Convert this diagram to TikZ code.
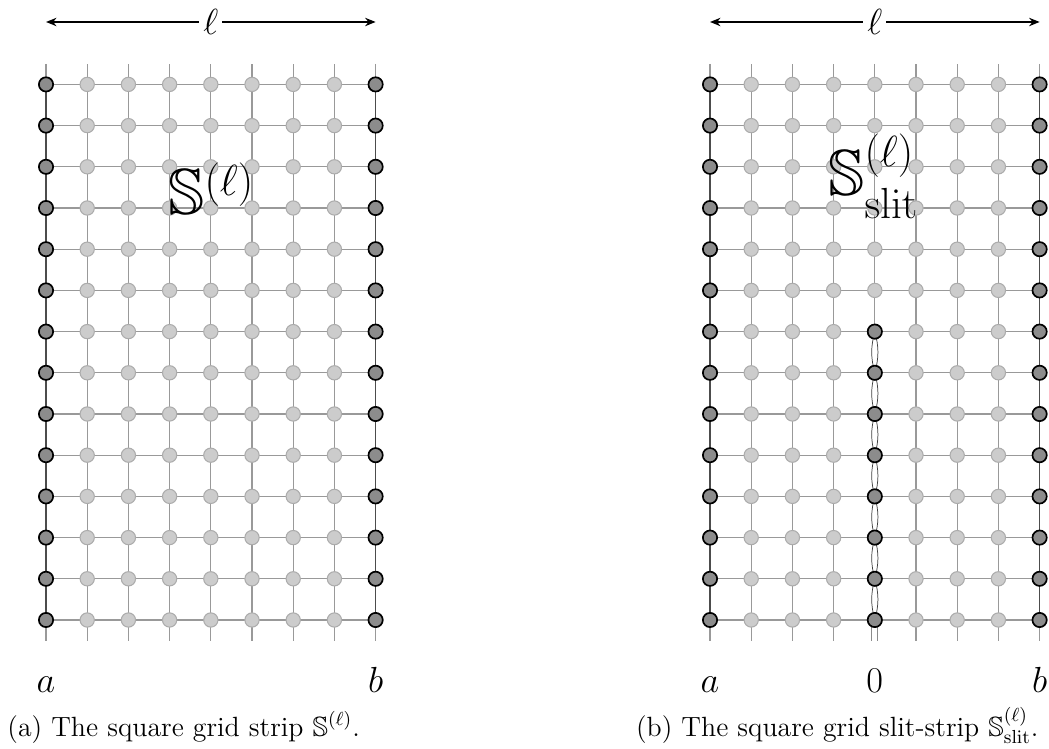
\documentclass[tikz,border=0pt]{standalone}
\usepackage{amsmath}
\usepackage{amssymb}
\usetikzlibrary{arrows.meta}

\tikzset{
  edge/.style={gray!80, line width=0.6pt},
  bdry/.style={black!70, line width=0.7pt},
  slitline/.style={black!75, line width=0.35pt},
  lightsite/.style={circle, fill=gray!40, draw=gray!65, line width=0.5pt,
    minimum size=6.8pt, inner sep=0pt},
  darksite/.style={circle, fill=gray!90, draw=black, line width=0.8pt,
    minimum size=6.8pt, inner sep=0pt},
  endlabel/.style={font=\fontsize{19}{22}\selectfont, anchor=base},
  namelabel/.style={font=\fontsize{31}{34}\selectfont, anchor=base west, inner sep=0pt},
  caption/.style={inner sep=0pt, font=\fontsize{13.25}{16}\selectfont},
}

\begin{document}
\begin{tikzpicture}[x=19.62pt, y=19.62pt]
  \useasboundingbox (-1.117,-3.107) rectangle (24.345,15.049);

  % Lattice points of both strips
  \foreach \p/\ox in {L/0,R/16.117}{
    \foreach \i in {0,...,8}{
      \coordinate (\p-\i-top) at (\ox+\i,13.5);
      \coordinate (\p-\i-bot) at (\ox+\i,-0.5);
      \foreach \j in {0,...,13}
        \coordinate (\p-\i-\j) at (\ox+\i,\j);
    }
    \coordinate (\p-arrl) at (\ox,14.515);
    \coordinate (\p-arrr) at (\ox+8,14.515);
  }

  % Edges
  \foreach \p in {L,R}{
    \foreach \j in {0,...,13}
      \draw[edge] (\p-0-\j) -- (\p-8-\j);
    \foreach \i in {0,8}{
      \draw[edge] (\p-\i-top) -- (\p-\i-13);
      \draw[edge] (\p-\i-bot) -- (\p-\i-0);
      \draw[bdry] (\p-\i-0) -- (\p-\i-13);
    }
  }
  \foreach \i in {1,...,7}
    \draw[edge] (L-\i-bot) -- (L-\i-top);
  \foreach \i in {1,2,3,5,6,7}
    \draw[edge] (R-\i-bot) -- (R-\i-top);
  \draw[edge] (R-4-top) -- (R-4-7);

  % The slit
  \foreach \j [evaluate=\j as \k using int(\j+1)] in {0,...,6}{
    \draw[slitline] (R-4-\j) to[bend left=15] (R-4-\k);
    \draw[slitline] (R-4-\j) to[bend right=15] (R-4-\k);
  }
  \draw[gray!90, line width=0.5pt, double=white, double distance=2.4pt]
    (R-4-bot) -- (R-4-0);

  % Sites
  \foreach \p in {L,R}
    \foreach \j in {0,...,13}{
      \foreach \i in {1,...,7}
        \node[lightsite] (\p-s-\i-\j) at (\p-\i-\j) {};
      \node[darksite] (\p-s-0-\j) at (\p-0-\j) {};
      \node[darksite] (\p-s-8-\j) at (\p-8-\j) {};
    }
  \foreach \j in {0,...,7}
    \node[darksite] (R-d-\j) at (R-4-\j) {};

  % Width arrows
  \foreach \p in {L,R}
    \draw[{Stealth[length=5pt,width=4pt]}-{Stealth[length=5pt,width=4pt]}, line width=0.6pt]
      (\p-arrl) -- node[fill=white, inner sep=2pt, font=\fontsize{17}{20}\selectfont]
      (\p-ell) {$\ell$} (\p-arrr);

  % Labels
  \node[namelabel] (Lname) at (2.96,9.85) {$\mathbb{S}^{(\ell)}$};
  \node[namelabel] (Rname) at (18.98,10.3) {$\mathbb{S}^{(\ell)}_{\mathrm{slit}}$};

  \node[endlabel] (La) at (0,-1.75) {$a$};
  \node[endlabel] (Lb) at (8,-1.75) {$b$};
  \node[endlabel] (Ra) at (16.117,-1.75) {$a$};
  \node[endlabel] (R0) at (20.117,-1.75) {$0$};
  \node[endlabel] (Rb) at (24.117,-1.75) {$b$};

  % Captions
  \node[caption, anchor=base west] (Lcap) at (-0.947,-2.82)
    {(a) The square grid strip $\mathbb{S}^{(\ell)}$.};
  \node[caption, anchor=base east] (Rcap) at (24.10,-2.82)
    {(b) The square grid slit-strip $\mathbb{S}^{(\ell)}_{\mathrm{slit}}$.};
\end{tikzpicture}
\end{document}
